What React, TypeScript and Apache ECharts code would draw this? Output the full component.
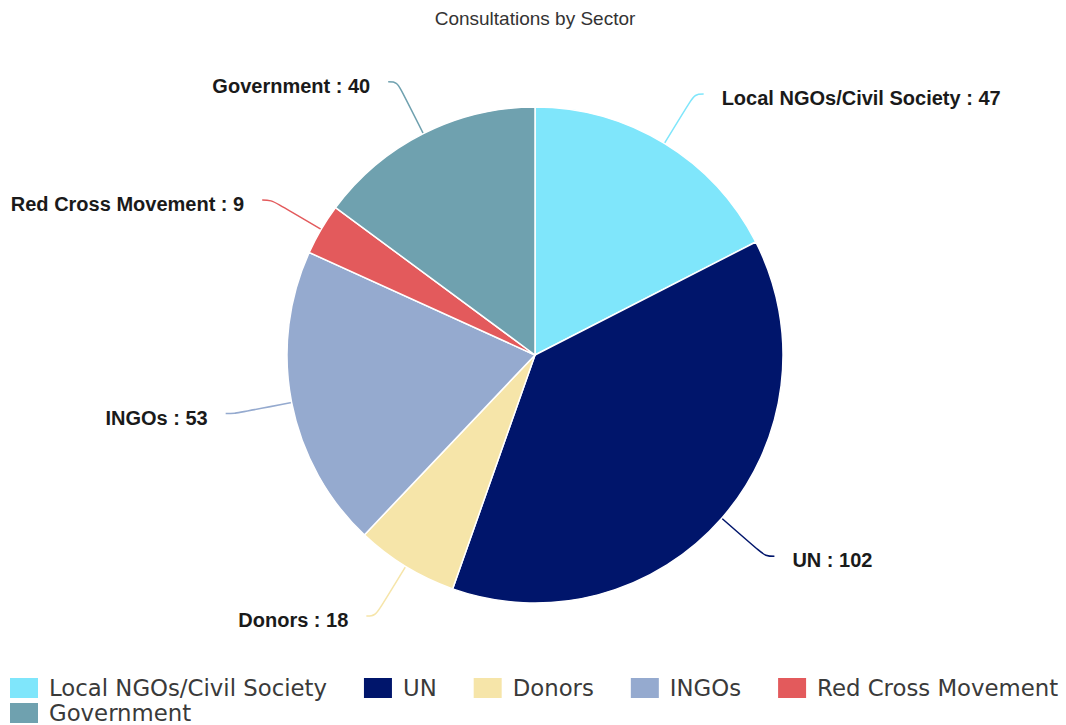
import React, { useEffect, useRef } from "react";
import * as echarts from "echarts";

const categories = [
  "Local NGOs/Civil Society",
  "UN",
  "Donors",
  "INGOs",
  "Red Cross Movement",
  "Government",
];
const values = [47, 102, 18, 53, 9, 40];
const colors = ["#7FE6FB", "#00156B", "#F6E5A9", "#95AACF", "#E35A5C", "#6FA1AF"];

export default function App() {
  const ref = useRef<HTMLDivElement>(null);
  useEffect(() => {
    if (!ref.current) return;
    const chart = echarts.init(ref.current, null, { renderer: "svg" });
    const data = categories.map((name, i) => ({
      name,
      value: values[i],
      itemStyle: { color: colors[i] },
      labelLine: { lineStyle: { color: colors[i], width: 1.5 } },
    }));
    const legendText = {
      fontFamily: "DejaVu Sans",
      fontSize: 22.8,
      color: "#3a3a3a",
      padding: [0, 0, 0, 5],
    };
    const legendBase = {
      orient: "horizontal",
      icon: "rect",
      itemWidth: 30,
      itemHeight: 22,
      itemGap: 35,
      padding: 0,
      left: 8,
      textStyle: legendText,
    };
    chart.setOption({
      animation: false,
      backgroundColor: "#ffffff",
      title: {
        text: "Consultations by Sector",
        left: 535,
        textAlign: "center",
        top: 9,
        padding: 0,
        textStyle: {
          fontFamily: "Liberation Sans",
          fontSize: 19,
          fontWeight: "normal",
          color: "#333333",
        },
      },
      legend: [
        { ...legendBase, data: categories.slice(0, 5), top: 676 },
        { ...legendBase, data: categories.slice(5), top: 701 },
      ],
      series: [
        {
          type: "pie",
          center: [535, 355],
          radius: 248,
          startAngle: 90,
          clockwise: true,
          data,
          itemStyle: { borderColor: "#ffffff", borderWidth: 1.5 },
          label: {
            show: true,
            formatter: "{b} : {c}",
            fontFamily: "Liberation Sans",
            fontWeight: "bold",
            fontSize: 20,
            color: "#1a1a1a",
            distanceToLabelLine: 18,
            overflow: "none",
          },
          labelLayout: { dy: 4 },
          labelLine: {
            show: true,
            length: 58,
            length2: 9,
            smooth: 0.4,
          },
          emphasis: { disabled: true },
        },
      ],
    });
    return () => chart.dispose();
  }, []);
  return (
    <div
      ref={ref}
      style={{ position: "fixed", left: 0, top: 0, width: 1066, height: 725 }}
    />
  );
}
